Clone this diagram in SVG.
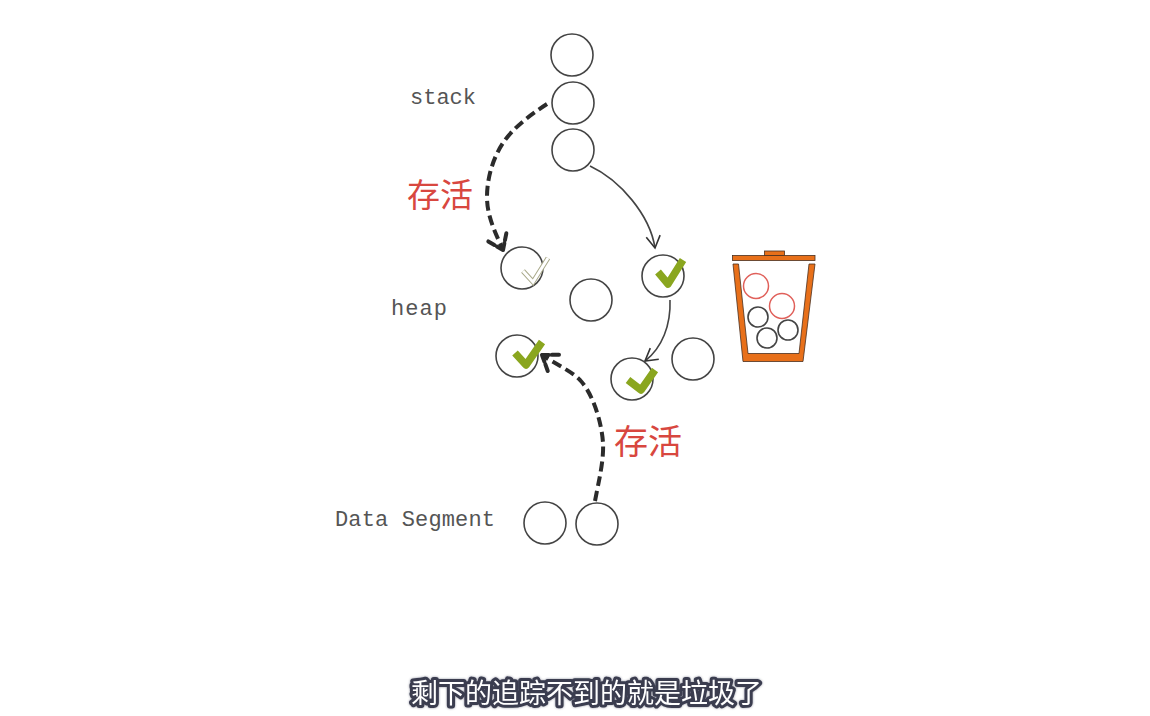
<svg xmlns="http://www.w3.org/2000/svg" width="1150" height="716" viewBox="0 0 1150 716">
<style>
.c{fill:none;stroke:#444;stroke-width:1.6}
.r{fill:none;stroke:#e0605a;stroke-width:1.5}
.k{fill:none;stroke:#8aa61f;stroke-width:7.500;stroke-linejoin:round;stroke-linecap:butt}
.lab{font-family:"Liberation Mono",monospace;font-size:22px;fill:#555}
.cn{font-family:"Noto Sans CJK SC",sans-serif;fill:#d8473f}
.thin{fill:none;stroke:#444;stroke-width:1.6}
.dash{fill:none;stroke:#2b2b2b;stroke-width:4;stroke-dasharray:10 5}
.head{fill:none;stroke:#333;stroke-width:1.6}
.dhead{fill:none;stroke:#2b2b2b;stroke-width:4;stroke-dasharray:7 3;stroke-linecap:round}
.or{fill:#e8701a;stroke:#4a3020;stroke-width:.8}
.sub{font-family:"Noto Sans CJK SC",sans-serif;font-size:27px;fill:#fff;stroke:#3a3c50;stroke-width:6;stroke-linejoin:round;paint-order:stroke;filter:url(#halo)}
</style>
<defs>
<filter id="halo" x="-5%" y="-30%" width="110%" height="160%">
<feGaussianBlur in="SourceAlpha" stdDeviation="1.2" result="b"/>
<feFlood flood-color="#3a3c50" flood-opacity=".55"/>
<feComposite in2="b" operator="in" result="s"/>
<feGaussianBlur in="SourceGraphic" stdDeviation=".4" result="g"/>
<feMerge><feMergeNode in="s"/><feMergeNode in="g"/></feMerge>
</filter>
<marker id="open" markerUnits="userSpaceOnUse" markerWidth="40" markerHeight="40" viewBox="0 0 40 40" refX="30" refY="20" orient="auto">
<path class="head" d="M18,13 L30,20 L18,27"/>
</marker>
<marker id="dashed" markerUnits="userSpaceOnUse" markerWidth="60" markerHeight="60" viewBox="0 0 60 60" refX="40" refY="30" orient="auto">
<path class="dhead" d="M40,30 L26,20 M40,30 L26,40"/>
</marker>
</defs>
<rect width="1150" height="716" fill="#fff"/>
<g id="connectors">
<path class="dash" marker-end="url(#dashed)" d="M547,104 C530,115 513,128 503,143 C493,158 487,178 487,197 C487,215 494,230 503,250"/>
<path class="dash" marker-end="url(#dashed)" d="M595,501 C599,480 604,460 603,443 C602,425 594,395 580,380 C570,370 555,364 542,355"/>
<path class="thin" marker-end="url(#open)" d="M590,166 C620,180 650,215 655,248"/>
<path class="thin" marker-end="url(#open)" d="M670,300 C671,325 662,348 645,361"/>
</g>
<g id="stack-1"><circle class="c" cx="572" cy="55" r="21"/></g>
<g id="stack-2"><circle class="c" cx="573" cy="103" r="21"/></g>
<g id="stack-3"><circle class="c" cx="573" cy="150" r="21"/></g>
<g id="heap-1"><circle class="c" cx="522" cy="268" r="21"/>
<path d="M523,271 L533,282 L548,258" fill="none" stroke="#a9a98a" stroke-width="5"/>
<path d="M523,271 L533,282 L548,258" fill="none" stroke="#fff" stroke-width="3"/></g>
<g id="heap-2"><circle class="c" cx="591" cy="300" r="21"/></g>
<g id="heap-3"><circle class="c" cx="663" cy="276" r="21"/><path class="k" d="M658,272 L668,284 L683,260"/></g>
<g id="heap-4"><circle class="c" cx="517" cy="356" r="21"/><path class="k" d="M515,353 L526,365 L542,342"/></g>
<g id="heap-5"><circle class="c" cx="632" cy="379" r="21"/><path class="k" d="M628,380 L641,390 L655,370"/></g>
<g id="heap-6"><circle class="c" cx="693" cy="359" r="21"/></g>
<g id="data-1"><circle class="c" cx="545" cy="523" r="21"/></g>
<g id="data-2"><circle class="c" cx="597" cy="524" r="21"/></g>
<g id="bin">
<rect class="or" x="732.500" y="255.500" width="82.500" height="5"/>
<rect class="or" x="764.500" y="251" width="20" height="4.500"/>
<path class="or" d="M733,264 H738.500 L748,353.500 H799 L809,264 H815 L803,361.500 H743 Z"/>
<circle class="r" cx="756" cy="286" r="12.500"/>
<circle class="r" cx="782" cy="306" r="12.500"/>
<circle class="c" cx="758" cy="317" r="10"/>
<circle class="c" cx="788" cy="330" r="10"/>
<circle class="c" cx="767" cy="338" r="10"/>
</g>
<text class="lab" x="410" y="104">stack</text>
<text class="lab" x="391" y="315" textLength="56">heap</text>
<text class="lab" x="335" y="526" textLength="160">Data Segment</text>
<text class="cn" x="407" y="207" font-size="33">存活</text>
<text class="cn" x="614" y="454" font-size="34">存活</text>
<text class="sub" x="411" y="703">剩下的追踪不到的就是垃圾了</text>
</svg>
